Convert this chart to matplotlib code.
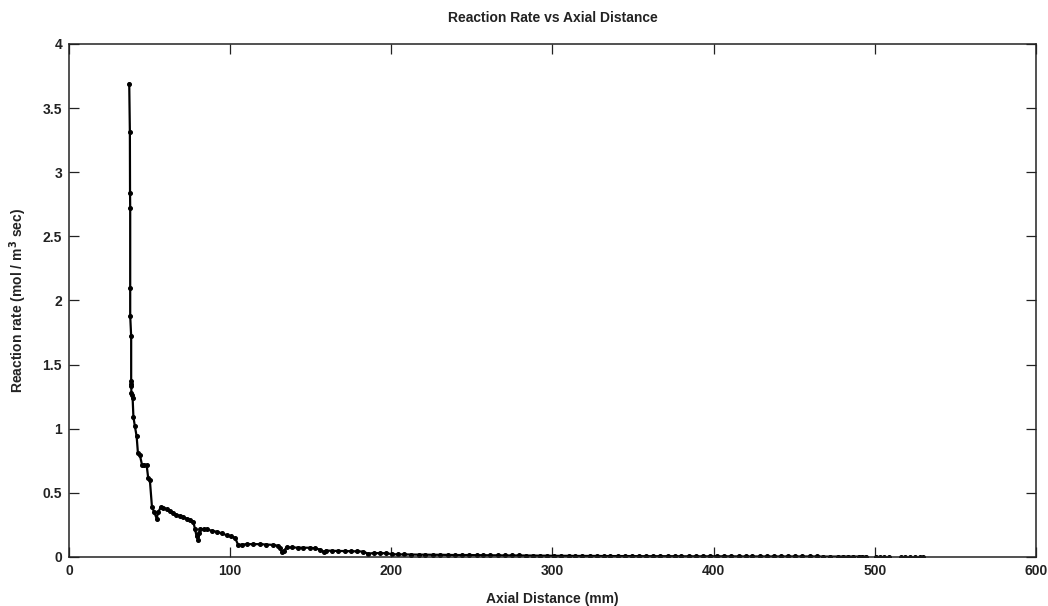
import numpy as np
from matplotlib import pyplot as plt

# axial distance (mm) and reaction rate (mol / m^3 sec)
axial_mm = [
    37.4, 37.8, 37.9, 38.0, 38.0, 38.0, 38.6, 38.6, 38.6, 38.7, 38.7, 39.0, 39.5, 40.0,
    40.9, 42.0, 42.8, 44.0, 45.3, 46.5, 48.2, 49.2, 50.2, 51.5, 52.9, 54.4, 55.4, 56.9,
    58.5, 60.6, 62.5, 64.7, 66.5, 68.9, 71.0, 73.0, 75.0, 77.1, 78.2, 79.2, 80.2, 80.8,
    81.6, 83.5, 85.4, 88.5, 91.6, 94.7, 97.8, 100.5, 103.0, 105.0, 107.5, 110.2, 114.0,
    118.5, 122.5, 126.8, 129.5, 131.0, 132.2, 133.5, 135.0, 138.5, 142.0, 145.5, 149.5,
    152.5, 155.7, 158.0, 159.5, 163.0, 167.0, 171.0, 175.0, 179.0, 182.6, 185.5, 189.0,
    193.0, 197.0, 200.5, 204.0, 208.0, 212.5, 217.0, 221.0, 226.0, 230.5, 235.0, 239.5,
    244.0, 248.5, 253.0, 257.0, 261.5, 266.0, 270.5, 275.0, 279.0, 283.5, 288.0, 292.5,
    296.5, 301.0, 305.5, 310.0, 314.0, 318.5, 323.0, 327.5, 332.0, 336.0, 340.5, 345.0,
    349.5, 354.0, 358.0, 362.5, 367.0, 371.5, 376.0, 380.0, 384.5, 389.0, 393.5, 398.0,
    402.0, 406.5, 411.0, 415.5, 420.0, 424.0, 428.5, 433.0, 437.5, 442.0, 446.0, 450.5,
    455.0, 459.5, 464.0, 468.0, 472.5, 477.0, 480.0, 483.5, 486.5, 490.0, 492.0, 494.8,
    501.0, 503.0, 506.0, 508.6, 516.0, 518.6, 521.7, 524.8, 528.0, 530.0,
]
rate = [
    3.69, 3.31, 2.84, 2.72, 2.10, 1.88, 1.72, 1.37, 1.35, 1.33, 1.28, 1.26, 1.24, 1.09,
    1.02, 0.94, 0.81, 0.795, 0.72, 0.715, 0.717, 0.613, 0.60, 0.39, 0.35, 0.30, 0.35, 0.387,
    0.385, 0.372, 0.36, 0.34, 0.33, 0.32, 0.31, 0.30, 0.29, 0.275, 0.22, 0.16, 0.13, 0.185,
    0.22, 0.215, 0.215, 0.205, 0.197, 0.185, 0.17, 0.16, 0.15, 0.094, 0.097, 0.10, 0.10,
    0.10, 0.097, 0.094, 0.088, 0.068, 0.035, 0.05, 0.075, 0.074, 0.073, 0.072, 0.072,
    0.068, 0.058, 0.040, 0.050, 0.048, 0.047, 0.046, 0.045, 0.044, 0.042, 0.026, 0.030,
    0.030, 0.029, 0.022, 0.020, 0.020, 0.019, 0.018, 0.018, 0.017, 0.017, 0.016, 0.015,
    0.015, 0.015, 0.014, 0.014, 0.013, 0.013, 0.012, 0.012, 0.012, 0.011, 0.011, 0.010,
    0.010, 0.009, 0.009, 0.009, 0.008, 0.008, 0.008, 0.008, 0.007, 0.007, 0.007, 0.007,
    0.007, 0.006, 0.006, 0.006, 0.006, 0.006, 0.006, 0.005, 0.005, 0.005, 0.005, 0.005,
    0.005, 0.005, 0.005, 0.004, 0.004, 0.004, 0.004, 0.004, 0.004, 0.004, 0.004, 0.004,
    0.004, 0.004, 0.004, 0.003, 0.003, 0.003, 0.003, 0.003, 0.003, 0.003, 0.003, 0.003,
    0.003, 0.003, 0.003, 0.003, 0.003, 0.003, 0.003, 0.003, 0.003, 0.003,
]
# the last points are separate dots (no line across the gaps)
n_joined = 151

plt.rcParams["font.family"] = ["Liberation Sans", "DejaVu Sans"]
plt.rcParams["font.weight"] = "bold"
ink = "#222222"

fig = plt.figure(figsize=(10.48, 6.06), dpi=100)
ax = fig.add_axes([0.0658, 0.0809, 0.9227, 0.8465])

ax.plot(axial_mm[:n_joined], rate[:n_joined], color="black", linewidth=1.6,
        marker="o", markersize=2.6)
ax.plot(axial_mm[n_joined:], rate[n_joined:], color="black", linestyle="none",
        marker="o", markersize=2.6)

ax.set_xlim(0, 600)
ax.set_ylim(0, 4)
ax.set_xticks(np.arange(0, 601, 100))
ax.set_yticks([0, 0.5, 1, 1.5, 2, 2.5, 3, 3.5, 4])
ax.set_yticklabels(["0", "0.5", "1", "1.5", "2", "2.5", "3", "3.5", "4"])
ax.tick_params(direction="in", length=7, width=0.9, top=True, right=True,
               labelsize=10, pad=5, colors=ink)
for s in ax.spines.values():
    s.set_linewidth(1.1)
    s.set_color(ink)

ax.set_title("Reaction Rate vs Axial Distance", fontsize=10, fontweight="bold",
             pad=16, color=ink)
ax.set_xlabel("Axial Distance (mm)", fontsize=10, fontweight="bold", labelpad=10,
              color=ink)
ax.set_ylabel("Reaction rate (mol / m$^\\mathbf{3}$ sec)", fontsize=10,
              fontweight="bold", labelpad=10, color=ink)

fig.savefig("out.png", dpi=100)
